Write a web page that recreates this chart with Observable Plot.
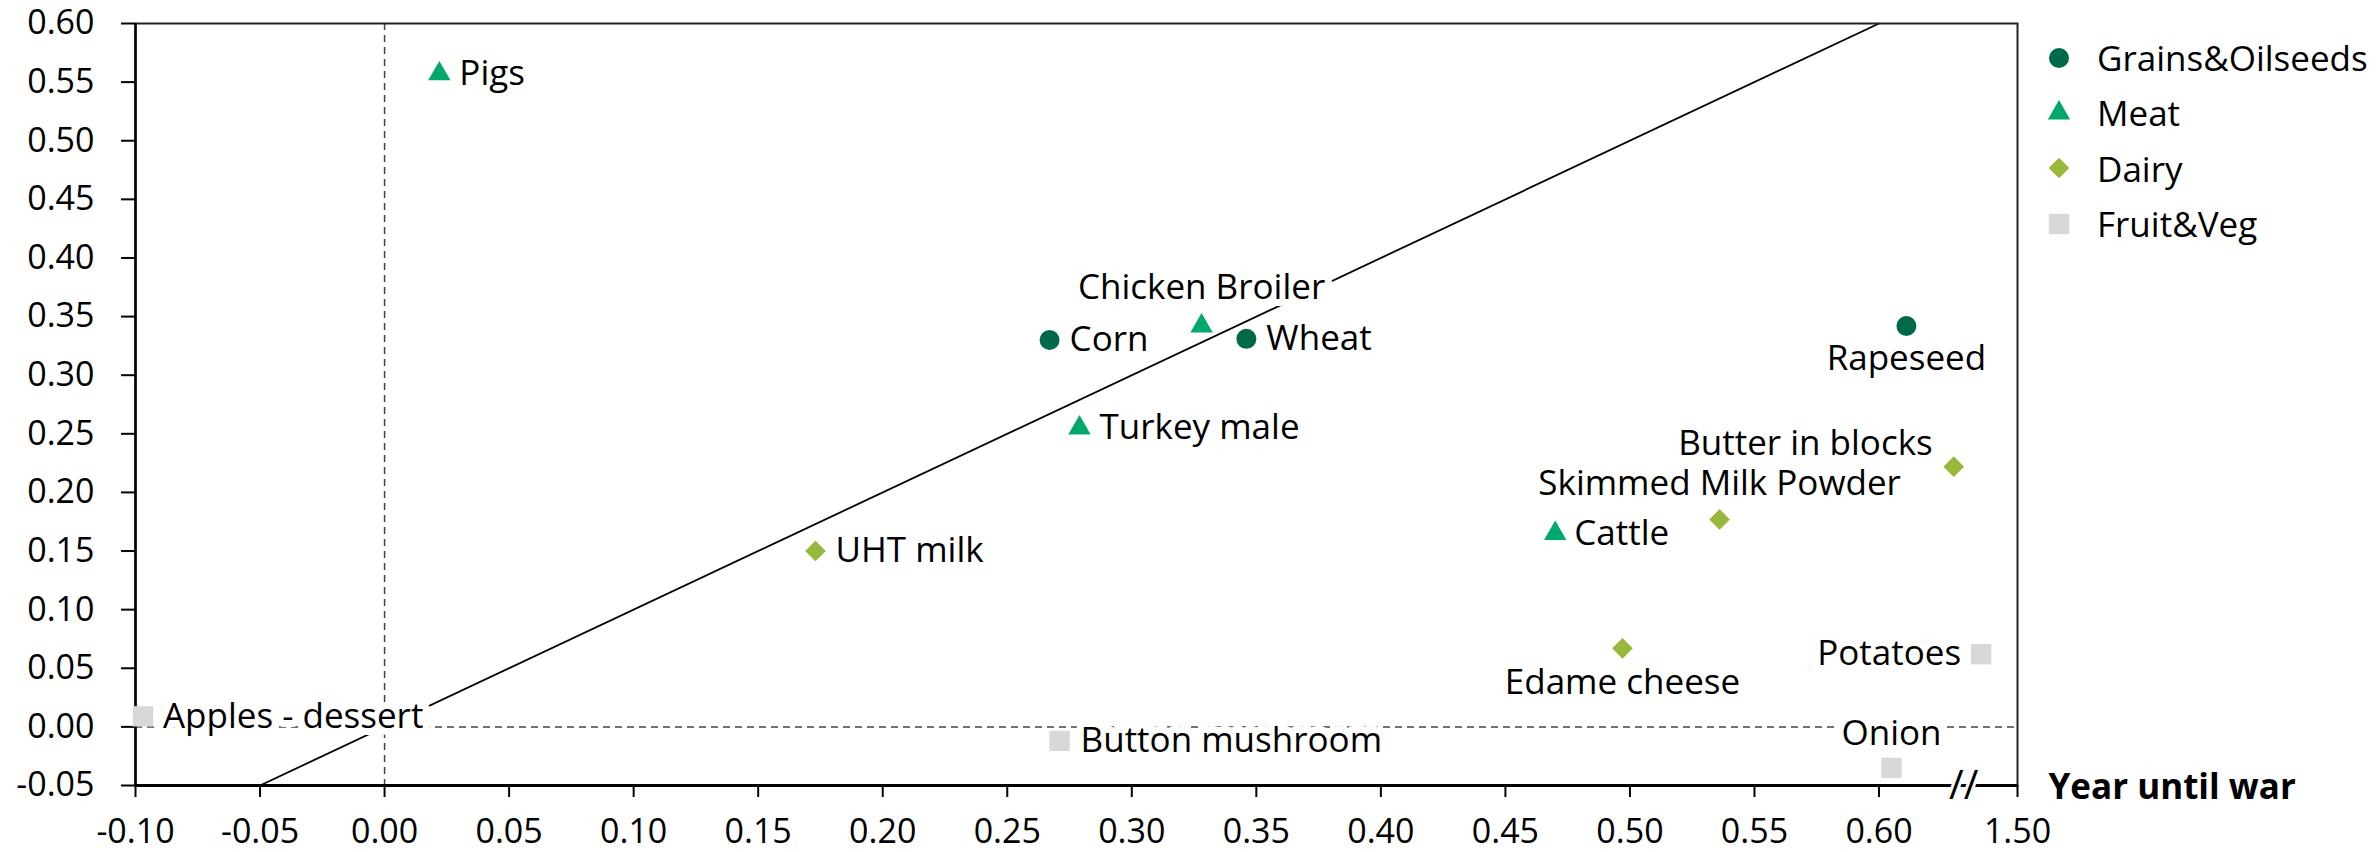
<!DOCTYPE html>
<html>
<head>
<meta charset="utf-8">
<script src="https://cdn.jsdelivr.net/npm/d3@7"></script>
<script src="https://cdn.jsdelivr.net/npm/@observablehq/plot@0.6"></script>
<style>
  body { margin: 0; background: #fff; }
  #wrap { position: relative; width: 2379px; height: 852px; font-family: "Open Sans", sans-serif; }
  #wrap > svg { overflow: visible; }
  #legend { position: absolute; left: 2047px; top: 30px; font-size: 35px; color: #000; }
  .row { display: flex; align-items: center; height: 55.3px; white-space: nowrap; }
  .row svg { width: 24px; height: 24px; overflow: visible; margin-right: 26px; }
</style>
</head>
<body>
<div id="wrap"><div id="legend"></div></div>
<script>
// ---- data ----
const names = ["Pigs", "Chicken Broiler", "Turkey male", "Cattle",
               "Corn", "Wheat", "Rapeseed",
               "UHT milk", "Skimmed Milk Powder", "Butter in blocks", "Edame cheese",
               "Apples - dessert", "Button mushroom", "Potatoes", "Onion"];
const groups = ["Meat", "Meat", "Meat", "Meat",
                "Grains&Oilseeds", "Grains&Oilseeds", "Grains&Oilseeds",
                "Dairy", "Dairy", "Dairy", "Dairy",
                "Fruit&Veg", "Fruit&Veg", "Fruit&Veg", "Fruit&Veg"];
const xValues = [0.022, 0.328, 0.279, 0.470,
                 0.267, 0.346, 0.611,
                 0.173, 0.536, 0.630, 0.497,
                 -0.097, 0.271, 0.641, 0.605];
const yValues = [0.557, 0.342, 0.255, 0.165,
                 0.330, 0.331, 0.342,
                 0.150, 0.177, 0.222, 0.067,
                 0.009, -0.012, 0.062, -0.035];
const categories = ["Grains&Oilseeds", "Meat", "Dairy", "Fruit&Veg"];
const xTicks = [-0.10, -0.05, 0.00, 0.05, 0.10, 0.15, 0.20, 0.25, 0.30, 0.35, 0.40, 0.45, 0.50, 0.55, 0.60, 0.6556];
const xTickLabels = ["-0.10", "-0.05", "0.00", "0.05", "0.10", "0.15", "0.20", "0.25", "0.30", "0.35", "0.40", "0.45", "0.50", "0.55", "0.60", "1.50"];
const yTicks = [-0.05, 0.00, 0.05, 0.10, 0.15, 0.20, 0.25, 0.30, 0.35, 0.40, 0.45, 0.50, 0.55, 0.60];
const diagonalEnds = [-0.05, 0.60];   // y = x reference line
const axisBreakAt = [0.634];
const xLabel = "Year until war";

// ---- styles ----
const catColor = {"Grains&Oilseeds": "#00694a", "Meat": "#00a86b", "Dairy": "#97b83a", "Fruit&Veg": "#d8d8d8"};
const catSymbol = {"Grains&Oilseeds": "circle", "Meat": "triangle", "Dairy": "diamond2", "Fruit&Veg": "square"};
const catR = {"Grains&Oilseeds": 10, "Meat": 8.3, "Dairy": 9.3, "Fruit&Veg": 11.5};
const labelPlace = {
  "Pigs": [20, 0, "start"], "Chicken Broiler": [0, -38, "middle"], "Turkey male": [20, 0, "start"],
  "Cattle": [19, 0, "start"], "Corn": [20, 0, "start"], "Wheat": [20, 0, "start"],
  "Rapeseed": [0, 33, "middle"], "UHT milk": [20, 0, "start"], "Skimmed Milk Powder": [0, -36, "middle"],
  "Butter in blocks": [-21, -23, "end"], "Edame cheese": [0, 34, "middle"], "Apples - dessert": [20, 0, "start"],
  "Button mushroom": [21, 0, "start"], "Potatoes": [-20, 0, "end"], "Onion": [0, -34, "middle"]
};

const data = names.map((n, i) => ({name: n, group: groups[i], x: xValues[i], y: yValues[i]}));
const diag = diagonalEnds.map(v => ({x: v, y: v}));

const labelMarks = data.map(d => {
  const [dx, dy, anchor] = labelPlace[d.name];
  return Plot.text([d], {x: "x", y: "y", text: "name", dx, dy, textAnchor: anchor,
    fontSize: 35, fill: "#000", stroke: "white", strokeWidth: 14, strokeLinejoin: "round", paintOrder: "stroke"});
});
const dotMarks = categories.map(c => Plot.dot(data.filter(d => d.group === c),
  {x: "x", y: "y", fill: catColor[c], symbol: catSymbol[c], r: catR[c], stroke: "none"}));

const chart = Plot.plot({
  width: 2379, height: 852,
  marginLeft: 135, marginRight: 362, marginTop: 23, marginBottom: 67,
  style: {fontFamily: "'Open Sans', sans-serif", color: "#000", background: "transparent", overflow: "visible"},
  x: {domain: [-0.10, 0.6556]},
  y: {domain: [-0.05, 0.60]},
  marks: [
    Plot.ruleY([0], {stroke: "#444", strokeWidth: 1.5, strokeDasharray: "7,5"}),
    Plot.ruleX([0], {stroke: "#444", strokeWidth: 1.5, strokeDasharray: "7,5"}),
    Plot.line(diag, {x: "x", y: "y", stroke: "#000", strokeWidth: 1.8}),
    Plot.frame({stroke: "#222", strokeWidth: 2}),
    Plot.ruleY([-0.05], {stroke: "#000", strokeWidth: 3}),
    Plot.ruleX([-0.10], {stroke: "#000", strokeWidth: 2.5}),
    Plot.axisY({ticks: yTicks, tickFormat: d => d.toFixed(2), tickSize: 14, tickPadding: 27,
      fontSize: 34, label: null, strokeWidth: 2}),
    Plot.axisX({ticks: xTicks, tickFormat: d => xTickLabels[xTicks.indexOf(d)], tickSize: 12, tickPadding: 21,
      fontSize: 34, label: null, strokeWidth: 2}),
    Plot.text(axisBreakAt, {x: d => d, frameAnchor: "bottom", lineAnchor: "middle", text: () => "//", fontSize: 40,
      fill: "#000", stroke: "white", strokeWidth: 6, paintOrder: "stroke", dy: 1}),
    ...labelMarks,
    ...dotMarks,
    Plot.text([xLabel], {frameAnchor: "bottom-right", lineAnchor: "middle", text: d => d, dx: 31, dy: 2, textAnchor: "start",
      fontWeight: "bold", fontSize: 35, fill: "#000"})
  ]
});
document.getElementById("wrap").prepend(chart);

// legend
const legend = d3.select("#legend");
categories.forEach(c => {
  const row = legend.append("div").attr("class", "row");
  const svg = row.append("svg").attr("viewBox", "-12 -12 24 24");
  const size = catR[c] * catR[c] * Math.PI;
  const symMap = {circle: d3.symbolCircle, triangle: d3.symbolTriangle, diamond2: d3.symbolDiamond2, square: d3.symbolSquare};
  svg.append("path").attr("d", d3.symbol(symMap[catSymbol[c]], size)()).attr("fill", catColor[c]);
  row.append("span").text(c);
});
</script>
</body>
</html>
